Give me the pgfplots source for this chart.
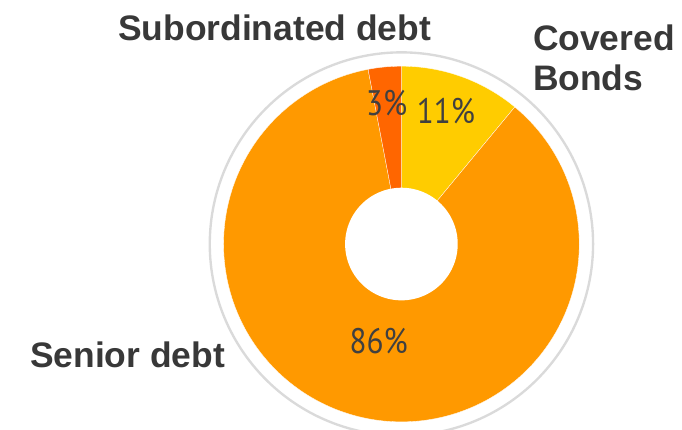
\documentclass[border=0pt]{standalone}
\usepackage{pgfplots}
\usepackage{pgfplotstable}
\pgfplotsset{compat=1.18}
\usepackage{fontspec}
\setmainfont{Liberation Sans}
\newfontfamily\pctfont[FakeStretch=0.88]{PT Sans}
\definecolor{covcol}{HTML}{FFCC00}
\definecolor{sencol}{HTML}{FF9900}
\definecolor{subcol}{HTML}{FF6600}
\definecolor{ringgray}{HTML}{DADADA}
\definecolor{txt}{HTML}{383838}
\definecolor{pcttxt}{HTML}{404040}

% shares in percent: Covered Bonds, Senior debt, Subordinated debt
\pgfplotstableread{
idx value
0 11
1 86
2 3
}\shares

\begin{document}
\pgfplotstablegetelem{0}{value}\of\shares \let\vCov\pgfplotsretval
\pgfplotstablegetelem{1}{value}\of\shares \let\vSen\pgfplotsretval
\pgfplotstablegetelem{2}{value}\of\shares \let\vSub\pgfplotsretval
\pgfmathsetmacro\aCov{90-3.6*\vCov}
\pgfmathsetmacro\aSen{\aCov-3.6*\vSen}
\pgfmathsetmacro\aSub{\aSen-3.6*\vSub}
\begin{tikzpicture}
\begin{axis}[
  scale only axis, width=682bp, height=435bp,
  xmin=0, xmax=682, ymin=0, ymax=435,
  hide axis, clip=true,
]
\coordinate (bbsw) at (rel axis cs:0,0);
\coordinate (bbne) at (rel axis cs:1,1);
% outer thin ring
\addplot[draw=ringgray, line width=2.4pt, domain=0:360, samples=241, variable=\t]
  ({398+194*cos(\t)},{188+194*sin(\t)});
% slices
\addplot[fill=covcol, draw=white, line width=0.3pt, domain=\aCov:90, samples=60, variable=\t]
  ({398+180*cos(\t)},{188+180*sin(\t)}) -- (axis cs:398,188) -- cycle;
\addplot[fill=sencol, draw=white, line width=0.3pt, domain=\aSen:\aCov, samples=240, variable=\t]
  ({398+180*cos(\t)},{188+180*sin(\t)}) -- (axis cs:398,188) -- cycle;
\addplot[fill=subcol, draw=white, line width=0.3pt, domain=\aSub:\aSen, samples=20, variable=\t]
  ({398+180*cos(\t)},{188+180*sin(\t)}) -- (axis cs:398,188) -- cycle;
% hole
\addplot[fill=white, draw=none, domain=0:360, samples=121, variable=\t]
  ({398+57*cos(\t)},{188+57*sin(\t)}) -- cycle;
% percent labels
\node[text=pcttxt, font=\pctfont\fontsize{36}{38}\selectfont] at (axis cs:443,323) {\vCov\%};
\node[text=pcttxt, font=\pctfont\fontsize{36}{38}\selectfont] at (axis cs:383,331) {\vSub\%};
\node[text=pcttxt, font=\pctfont\fontsize{36}{38}\selectfont] at (axis cs:375,90) {\vSen\%};
% category labels
\begin{scope}[every node/.style={inner sep=0pt, text=txt, font=\bfseries\fontsize{36}{40}\selectfont, anchor=base west}]
\node at (axis cs:111,394) {Subordinated debt};
\node at (axis cs:531,384) {Covered};
\node at (axis cs:531,343) {Bonds};
\node at (axis cs:22,63) {Senior debt};
\end{scope}
\end{axis}
\pgfresetboundingbox
\path[use as bounding box] (bbsw) rectangle (bbne);
\end{tikzpicture}
\end{document}
